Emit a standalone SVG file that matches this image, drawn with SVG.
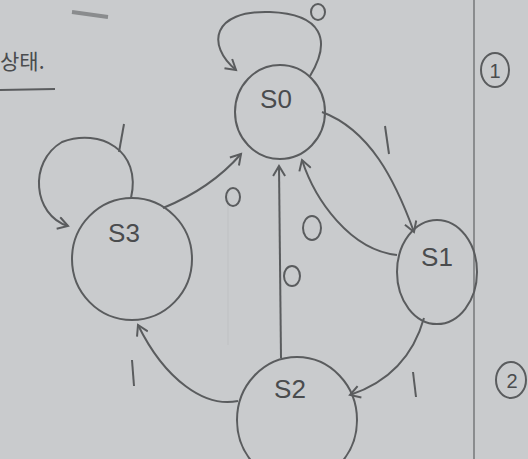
<svg xmlns="http://www.w3.org/2000/svg" width="528" height="459" viewBox="0 0 528 459">
<style>
.st{fill:none;stroke:#5a5c5e;stroke-width:2}
.e{fill:none;stroke:#5a5c5e;stroke-width:2}
.lbl{font-family:"Liberation Sans","DejaVu Sans",sans-serif;fill:#4a4c4e;text-anchor:middle}
.nm{font-size:26px}
.io{font-size:22px}
</style>
<defs>
<marker id="ar" markerWidth="14" markerHeight="14" refX="11" refY="7" orient="auto" markerUnits="userSpaceOnUse">
<path d="M1,1 L11,7 L1,13" fill="none" stroke="#5a5c5e" stroke-width="2"/>
</marker>
</defs>
<rect width="528" height="459" fill="#c9cbcd"/>
<line x1="474" y1="0" x2="474" y2="459" stroke="#8a8c8e" stroke-width="2"/>
<line x1="228" y1="190" x2="228" y2="345" stroke="#bfc1c3" stroke-width="1"/>
<g id="header">
<text x="0" y="69" font-size="21" fill="#4a4c4e" font-family="'Noto Sans CJK KR',sans-serif">상태.</text>
<line x1="0" y1="90" x2="55" y2="89" stroke="#5a5c5e" stroke-width="2"/>
<path d="M72,12 L108,17" stroke="#8a8c8e" stroke-width="4" fill="none"/>
</g>
<g id="mark1">
<ellipse cx="495" cy="70" rx="14" ry="17" class="e"/>
<text x="495" y="78" class="lbl" font-size="20">1</text>
</g>
<g id="mark2">
<ellipse cx="511" cy="380" rx="15" ry="18" class="e"/>
<text x="512" y="388" class="lbl" font-size="20">2</text>
</g>
<g id="connectors">
<path d="M310,76 C332,40 322,14 270,12 C212,10 206,45 236,70" class="st" marker-end="url(#ar)"/>
<path d="M131,198 C142,150 100,128 62,142 C28,162 33,215 68,226" class="st" marker-end="url(#ar)"/>
<path d="M163,208 C195,195 220,178 241,154" class="st" marker-end="url(#ar)"/>
<path d="M322,112 C370,130 395,180 414,232" class="st" marker-end="url(#ar)"/>
<path d="M397,255 C350,250 315,200 302,160" class="st" marker-end="url(#ar)"/>
<path d="M281,358 L279,166" class="st" marker-end="url(#ar)"/>
<path d="M424,318 C415,350 395,380 350,395" class="st" marker-end="url(#ar)"/>
<path d="M238,401 C205,408 165,380 138,325" class="st" marker-end="url(#ar)"/>
</g>
<g id="labels">
<ellipse cx="318" cy="12" rx="7" ry="8" class="e"/>
<path d="M124,124 L119,152" class="st"/>
<ellipse cx="233" cy="197" rx="7" ry="9" class="e"/>
<path d="M385,126 L389,154" class="st"/>
<ellipse cx="312" cy="228" rx="9" ry="12" class="e"/>
<ellipse cx="292" cy="276" rx="8" ry="10" class="e"/>
<path d="M413,372 L416,397" class="st"/>
<path d="M132,360 L134,386" class="st"/>
</g>
<g id="S0">
<ellipse cx="280" cy="112" rx="45" ry="47" class="e"/>
<text x="276" y="108" class="lbl nm">S0</text>
</g>
<g id="S3">
<ellipse cx="132" cy="259" rx="60" ry="61" class="e"/>
<text x="124" y="242" class="lbl nm">S3</text>
</g>
<g id="S1">
<ellipse cx="437" cy="272" rx="40" ry="52" class="e"/>
<text x="437" y="266" class="lbl nm">S1</text>
</g>
<g id="S2">
<ellipse cx="297" cy="420" rx="60" ry="63" class="e"/>
<text x="290" y="398" class="lbl nm">S2</text>
</g>
</svg>
